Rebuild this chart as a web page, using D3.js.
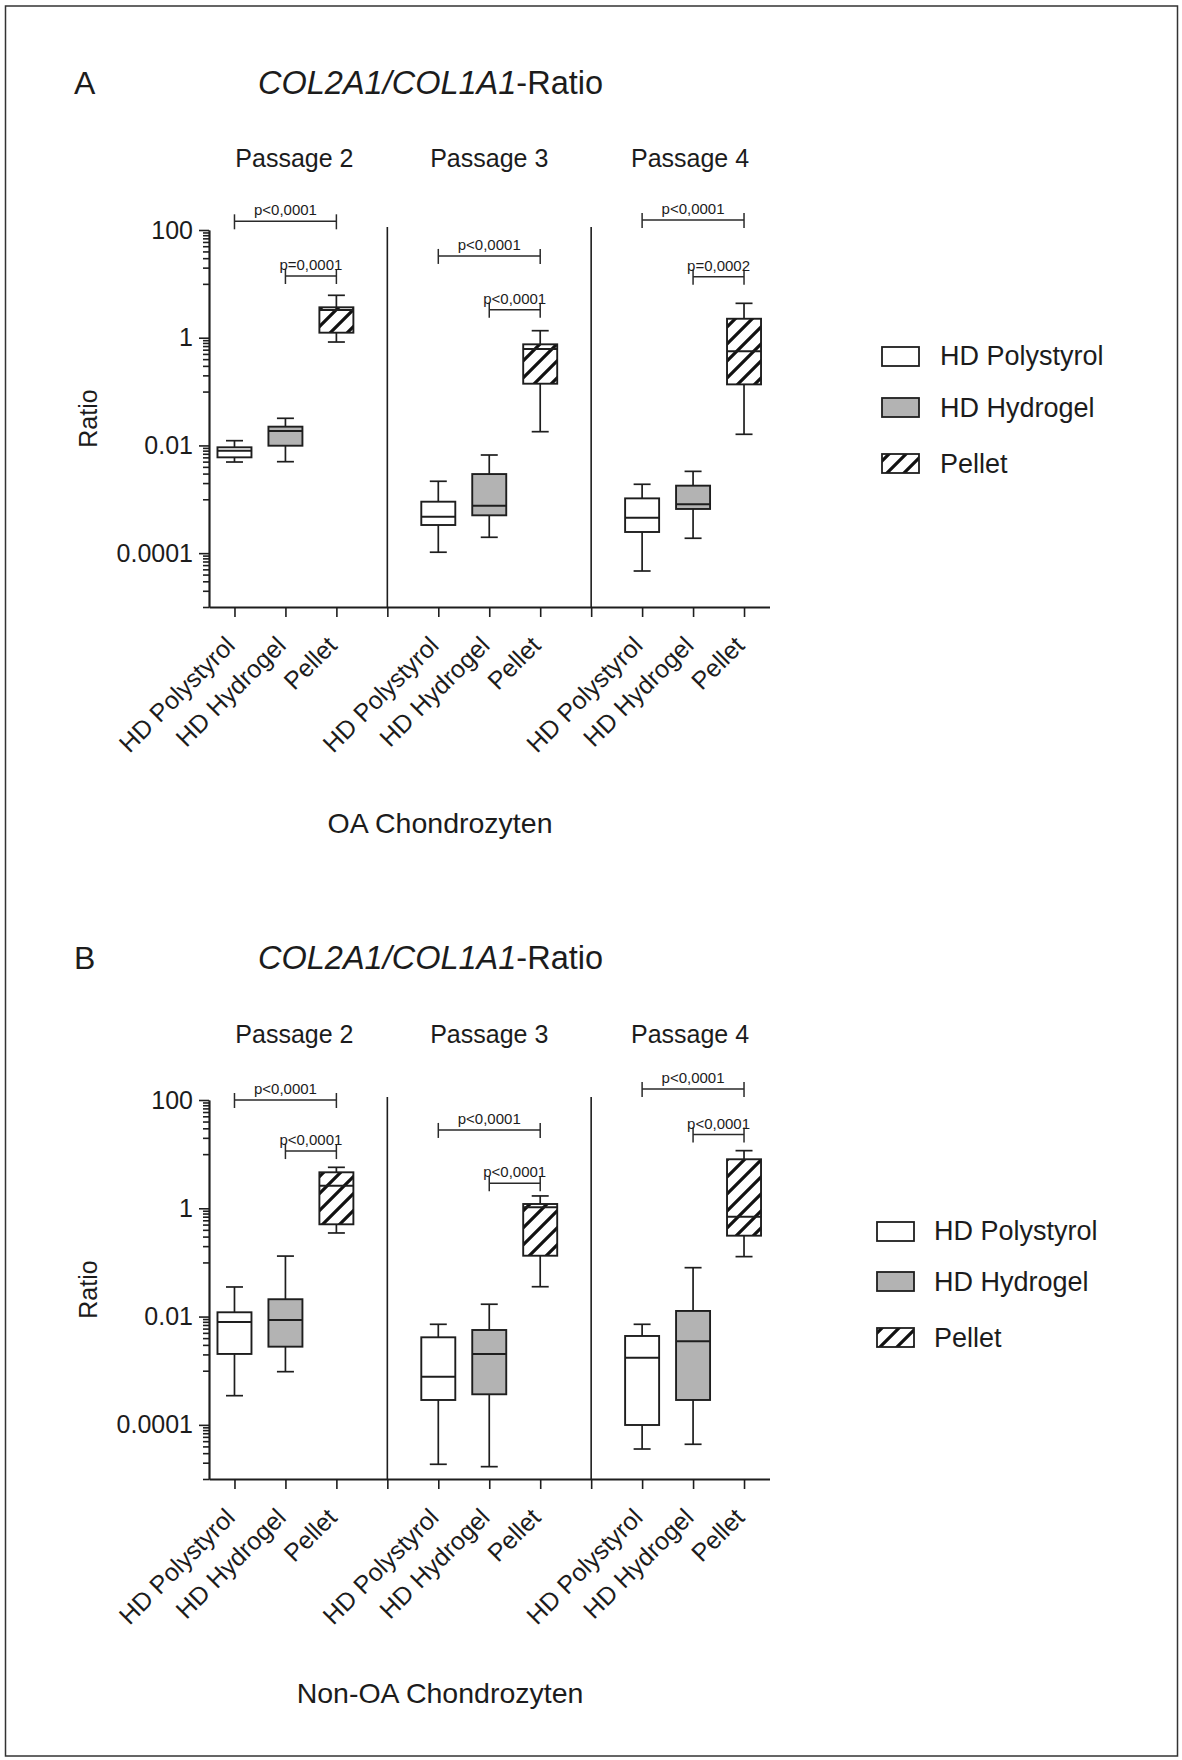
<!DOCTYPE html>
<html>
<head>
<meta charset="utf-8">
<script src="https://cdn.jsdelivr.net/npm/d3@7"></script>
<style>
  body { margin: 0; background: #fff; }
  svg text { font-family: "Liberation Sans", Arial, sans-serif; fill: #1c1c1c; }
</style>
</head>
<body>
<svg id="chart" width="1182" height="1760"></svg>
<script>
// ---------- data ----------
const passages = ["Passage 2", "Passage 3", "Passage 4"];
const conditions = ["HD Polystyrol", "HD Hydrogel", "Pellet"];
const yTickValues = [0.0001, 0.01, 1, 100];
const yTickLabels = ["0.0001", "0.01", "1", "100"];
const titleGene = "COL2A1/COL1A1";
const titleSuffix = "-Ratio";

// box summaries [min, q1, median, q3, max], per passage -> per condition
const oaBoxes = [
  [[0.00492, 0.00601, 0.00797, 0.00923, 0.01225],
   [0.00499, 0.00988, 0.0185, 0.0223, 0.0319],
   [0.832, 1.24, 3.27, 3.67, 6.13]],
  [[0.000104, 0.000333, 0.000475, 0.000902, 0.00216],
   [0.000197, 0.000504, 0.00076, 0.00294, 0.00664],
   [0.0180, 0.140, 0.617, 0.754, 1.35]],
  [[0.0000466, 0.000247, 0.000455, 0.00104, 0.0019],
   [0.000189, 0.000661, 0.000807, 0.00179, 0.0033],
   [0.0161, 0.136, 0.559, 2.25, 4.35]]
];
const nonOaBoxes = [
  [[0.000346, 0.00204, 0.00794, 0.0120, 0.0352],
   [0.00096, 0.00278, 0.00865, 0.0209, 0.131],
   [0.350, 0.506, 2.61, 4.62, 5.71]],
  [[0.0000187, 0.000288, 0.000776, 0.00414, 0.0072],
   [0.0000169, 0.000367, 0.00204, 0.00565, 0.0169],
   [0.0356, 0.133, 1.04, 1.2, 1.69]],
  [[0.0000358, 0.0000994, 0.00174, 0.00438, 0.0072],
   [0.0000438, 0.000288, 0.00349, 0.0127, 0.080],
   [0.128, 0.312, 0.70, 8.04, 11.6]]
];

// significance brackets: [Polystyrol vs Pellet, Hydrogel vs Pellet]
const oaPValues = [["p<0,0001", "p=0,0001"], ["p<0,0001", "p<0,0001"], ["p<0,0001", "p=0,0002"]];
const oaBracketLevels = [[145, 14], [33, 3.3], [153, 13.6]];
const nonOaPValues = [["p<0,0001", "p<0,0001"], ["p<0,0001", "p<0,0001"], ["p<0,0001", "p<0,0001"]];
const nonOaBracketLevels = [[100, 11.4], [28, 2.9], [160, 23]];

// ---------- drawing ----------
const svg = d3.select("#chart");
const ink = "#1e1e1e";
const fills = ["#ffffff", "#b3b3b3", "url(#hatch)"];

const defs = svg.append("defs");
const pat = defs.append("pattern")
  .attr("id", "hatch")
  .attr("patternUnits", "userSpaceOnUse")
  .attr("width", 17).attr("height", 17);
pat.append("rect").attr("width", 17).attr("height", 17).attr("fill", "#fff");
pat.append("path")
  .attr("d", "M-4,4 L4,-4 M0,17 L17,0 M13,21 L21,13")
  .attr("stroke", "#111").attr("stroke-width", 3.2);

// outer frame
svg.append("rect")
  .attr("x", 5.5).attr("y", 6).attr("width", 1172).attr("height", 1750)
  .attr("fill", "none").attr("stroke", "#333").attr("stroke-width", 1.5);

// x positions: slots 1..3, 5..7, 9..11 hold boxes, 4 and 8 are group dividers
const x = d3.scaleLinear().domain([0.5, 11.5]).range([209, 769.5]);
const slot = (g, c) => 1 + 4 * g + c;
const headingNudge = [9, 0, -3];

const panels = [
  { letter: "A", boxes: oaBoxes, pvals: oaPValues, levels: oaBracketLevels,
    yTop: 230, yBottom: 607, titleY: 94, passageY: 167,
    xTitle: "OA Chondrozyten", xTitleY: 833,
    legendX: 882, legendTextX: 940, legendRows: [347, 398, 454], legendTextY: [365, 417, 473] },
  { letter: "B", boxes: nonOaBoxes, pvals: nonOaPValues, levels: nonOaBracketLevels,
    yTop: 1100, yBottom: 1479, titleY: 969, passageY: 1043,
    xTitle: "Non-OA Chondrozyten", xTitleY: 1703,
    legendX: 877, legendTextX: 934, legendRows: [1222, 1272, 1328], legendTextY: [1240, 1291, 1347] }
];

panels.forEach(p => {
  const y = d3.scaleLog().domain([1e-5, 100]).range([p.yBottom, p.yTop]);
  const g = svg.append("g");

  // panel letter and title
  g.append("text").attr("x", 74).attr("y", p.titleY)
    .style("font-size", "32px").text(p.letter);
  const t = g.append("text").attr("x", 258).attr("y", p.titleY).style("font-size", "32.5px");
  t.append("tspan").style("font-style", "italic").text(titleGene);
  t.append("tspan").text(titleSuffix);

  // passage headings
  g.selectAll(".passage").data(passages).join("text")
    .attr("x", (d, i) => x(slot(i, 1)) + headingNudge[i])
    .attr("y", p.passageY)
    .attr("text-anchor", "middle")
    .style("font-size", "25px")
    .text(d => d);

  // y axis: labelled majors plus minor ticks
  const minor = [];
  [1, -1, -3, -5].forEach(e => { for (let j = 1; j <= 9; j++) minor.push(j * Math.pow(10, e)); });
  const yMinor = g.append("g").attr("transform", `translate(${x(0.5)},0)`)
    .call(d3.axisLeft(y).tickValues(minor).tickSize(6).tickSizeOuter(0).tickFormat(""));
  const yMajor = g.append("g").attr("transform", `translate(${x(0.5)},0)`)
    .call(d3.axisLeft(y).tickValues(yTickValues).tickSize(10).tickSizeOuter(0).tickPadding(6)
      .tickFormat((d, i) => yTickLabels[i]));
  [yMinor, yMajor].forEach(a => {
    a.selectAll("path, line").attr("stroke", ink).attr("stroke-width", 1.6);
  });
  yMajor.select(".domain").attr("stroke-width", 1.8);
  yMajor.selectAll("text").style("font-size", "25px").attr("fill", "#1c1c1c")
    .style("font-family", '"Liberation Sans", Arial, sans-serif');

  g.append("text")
    .attr("transform", `translate(97,${(p.yTop + p.yBottom) / 2}) rotate(-90)`)
    .attr("text-anchor", "middle")
    .style("font-size", "25px")
    .text("Ratio");

  // x axis
  const xAxis = g.append("g").attr("transform", `translate(0,${p.yBottom})`)
    .call(d3.axisBottom(x).tickValues(d3.range(1, 12)).tickSize(10).tickSizeOuter(0).tickFormat(""));
  xAxis.selectAll("path, line").attr("stroke", ink).attr("stroke-width", 1.6);
  xAxis.select(".domain").attr("stroke-width", 1.8);

  // group dividers
  g.selectAll(".divider").data([4, 8]).join("line")
    .attr("x1", d => x(d)).attr("x2", d => x(d))
    .attr("y1", p.yBottom).attr("y2", p.yTop - 3)
    .attr("stroke", ink).attr("stroke-width", 1.6);

  // category labels
  passages.forEach((_, gi) => {
    conditions.forEach((c, ci) => {
      g.append("text")
        .attr("transform", `translate(${x(slot(gi, ci)) + 2},${p.yBottom + 40}) rotate(-45)`)
        .attr("text-anchor", "end")
        .style("font-size", "25px")
        .text(c);
    });
  });

  g.append("text").attr("x", 440).attr("y", p.xTitleY)
    .attr("text-anchor", "middle").style("font-size", "28.5px").text(p.xTitle);

  // boxes
  const halfBox = 17, halfCap = 8.5;
  p.boxes.forEach((grp, gi) => {
    grp.forEach((s, ci) => {
      const cx = x(slot(gi, ci));
      const [mn, q1, md, q3, mx] = s;
      const b = g.append("g");
      b.append("line").attr("x1", cx).attr("x2", cx).attr("y1", y(mx)).attr("y2", y(q3));
      b.append("line").attr("x1", cx).attr("x2", cx).attr("y1", y(q1)).attr("y2", y(mn));
      b.append("line").attr("x1", cx - halfCap).attr("x2", cx + halfCap).attr("y1", y(mx)).attr("y2", y(mx));
      b.append("line").attr("x1", cx - halfCap).attr("x2", cx + halfCap).attr("y1", y(mn)).attr("y2", y(mn));
      b.selectAll("line").attr("stroke", ink).attr("stroke-width", 1.7);
      b.append("rect")
        .attr("x", cx - halfBox).attr("width", 2 * halfBox)
        .attr("y", y(q3)).attr("height", y(q1) - y(q3))
        .attr("fill", fills[ci]).attr("stroke", ink).attr("stroke-width", 1.9);
      b.append("line").attr("x1", cx - halfBox).attr("x2", cx + halfBox)
        .attr("y1", y(md)).attr("y2", y(md))
        .attr("stroke", ink).attr("stroke-width", 2);
    });
  });

  // significance brackets
  p.levels.forEach((lv, gi) => {
    lv.forEach((v, bi) => {
      const x1 = x(slot(gi, bi)), x2 = x(slot(gi, 2)), yy = y(v);
      const br = g.append("g").attr("stroke", "#2a2a2a").attr("stroke-width", 1.5);
      br.append("line").attr("x1", x1).attr("x2", x2).attr("y1", yy).attr("y2", yy);
      br.append("line").attr("x1", x1).attr("x2", x1).attr("y1", yy - 7).attr("y2", yy + 8);
      br.append("line").attr("x1", x2).attr("x2", x2).attr("y1", yy - 7).attr("y2", yy + 8);
      g.append("text")
        .attr("x", (x1 + x2) / 2).attr("y", yy - 6)
        .attr("text-anchor", "middle")
        .style("font-size", "15px")
        .text(p.pvals[gi][bi]);
    });
  });

  // legend
  conditions.forEach((c, ci) => {
    g.append("rect")
      .attr("x", p.legendX).attr("y", p.legendRows[ci])
      .attr("width", 37).attr("height", 19)
      .attr("fill", fills[ci]).attr("stroke", ink).attr("stroke-width", 1.8);
    g.append("text")
      .attr("x", p.legendTextX).attr("y", p.legendTextY[ci])
      .style("font-size", "27px")
      .text(c);
  });
});
</script>
</body>
</html>
